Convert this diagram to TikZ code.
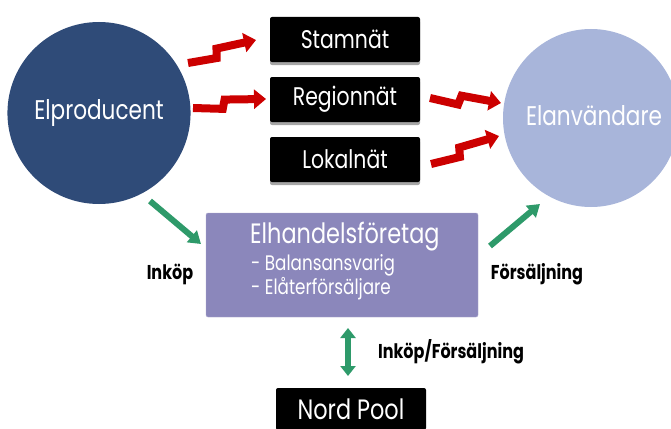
\documentclass[tikz,border=0pt]{standalone}
\usepackage{fontspec}
\setmainfont[FakeStretch=0.8]{Poppins}
\usetikzlibrary{arrows.meta,shapes.geometric,calc,shadows}
\definecolor{prodblue}{HTML}{2F4B78}
\definecolor{userblue}{HTML}{A8B5DA}
\definecolor{tradepurple}{HTML}{8B87BB}
\definecolor{boltred}{HTML}{CC0000}
\definecolor{flowgreen}{HTML}{2E9A6A}
\begin{document}
\begin{tikzpicture}[x=1pt,y=-1pt,
  party/.style={ellipse,inner sep=0pt,text=white,font=\fontsize{27}{30}\selectfont},
  grid/.style={fill=black,rounded corners=2pt,minimum width=150pt,minimum height=45pt,text=white,
     font=\fontsize{25.5}{28}\selectfont,
     drop shadow={shadow xshift=0pt,shadow yshift=-3pt,fill=black!35,opacity=1}},
  bolt/.style={draw=boltred,line width=8pt,line join=miter,-{Triangle[length=12pt,width=19pt]}},
  flow/.style={draw=flowgreen,line width=6pt,-{Triangle[length=12pt,width=15pt]}},
  lab/.style={font=\bfseries\fontsize{20}{22}\selectfont,text=black,inner sep=0pt}
]
\useasboundingbox (0,0) rectangle (671,428);
\clip (0,0) rectangle (671,428);

\node[party,fill=prodblue,minimum width=178pt,minimum height=182pt] (prod) at (99,113) {Elproducent};
\node[party,fill=userblue,minimum width=176pt,minimum height=178pt] (user) at (591,118) {};
\node[text=white,font=\fontsize{27}{30}\selectfont,inner sep=0pt] (usertext) at (594,116) {Elanvändare};

\node[grid] (stam) at (345,39.5) {Stamnät};
\node[grid] (reg) at (345,99.5) {Regionnät};
\node[grid] (lok) at (345,159.5) {Lokalnät};

\node[fill=tradepurple,draw=tradepurple!70!white,rounded corners=2pt,minimum width=272pt,minimum height=104pt] (trade) at (342,265) {};
\node[anchor=west,inner sep=0pt,text=white,font=\fontsize{28}{30}\selectfont] (tt) at (250,237) {Elhandelsföretag};
\node[anchor=west,inner sep=0pt,text=white,font=\fontsize{21}{23}\selectfont] (t1) at (251,265) {- Balansansvarig};
\node[anchor=west,inner sep=0pt,text=white,font=\fontsize{21}{23}\selectfont] (t2) at (251,289) {- Elåterförsäljare};

\node[fill=black,rounded corners=2pt,minimum width=150pt,minimum height=42pt,text=white,font=\fontsize{28}{31}\selectfont] (pool) at (351,409) {Nord Pool};

% red bolt arrows
\coordinate (s1) at (188,63);  \coordinate (e1) at (256,40);
\coordinate (s2) at (193,108); \coordinate (e2) at (266,99);
\coordinate (s3) at (430,98);  \coordinate (e3) at (501,103);
\coordinate (s4) at (431,164); \coordinate (e4) at (499,136);
\foreach \s/\e in {s1/e1,s2/e2,s3/e3,s4/e4}{
  \draw[bolt] (\s) -- ($(\s)!0.40!(\e)!4.5pt!-90:(\e)$) -- ($(\s)!0.44!(\e)!4.5pt!90:(\e)$) -- (\e);
}

% green arrows
\coordinate (g1) at (150,201); \coordinate (g2) at (201,244);
\coordinate (g3) at (490,246); \coordinate (g4) at (540,204);
\coordinate (d1) at (348,328); \coordinate (d2) at (348,376);
\draw[flow] (g1) -- (g2);
\draw[flow] (g3) -- (g4);
\draw[flowgreen,line width=6pt,{Triangle[length=10pt,width=15pt]}-{Triangle[length=10pt,width=15pt]}] (d1) -- (d2);

\node[lab] (lin) at (170,274) {Inköp};
\node[lab] (lsale) at (537,274) {Försäljning};
\node[lab] (lboth) at (451,352) {Inköp/Försäljning};
\end{tikzpicture}
\end{document}
